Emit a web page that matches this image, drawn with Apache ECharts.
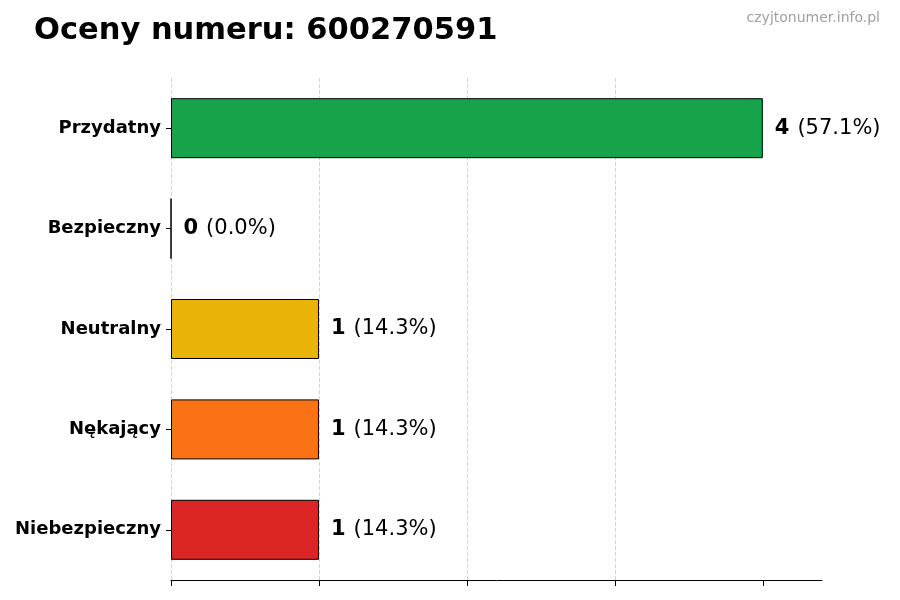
<!DOCTYPE html>
<html>
<head>
<meta charset="utf-8">
<script src="https://cdn.jsdelivr.net/npm/echarts@6/dist/echarts.min.js"></script>
<style>
    html, body { margin: 0; padding: 0; background: #fff; }
    #chart { width: 900px; height: 600px; }
</style>
</head>
<body>
<div id="chart"></div>
<script>
// Chart data
const categories = ['Przydatny', 'Bezpieczny', 'Neutralny', 'Nękający', 'Niebezpieczny'];
const counts = [4, 0, 1, 1, 1];
const barColors = ['#16a34a', '#9ca3af', '#eab308', '#f97316', '#dc2626'];
const tickValues = [0, 1, 2, 3, 4];

const total = counts.reduce((a, b) => a + b, 0);
const fontFamily = '"DejaVu Sans", sans-serif';

const chart = echarts.init(document.getElementById('chart'));

chart.setOption({
    animation: false,
    textStyle: { fontFamily: fontFamily },
    title: [{
        text: 'Oceny numeru: 600270591',
        left: 29,
        top: 11,
        textStyle: { fontSize: 30.5, fontWeight: 'bold', color: '#000', fontFamily: fontFamily }
    }, {
        text: 'czyjtonumer.info.pl',
        right: 15,
        top: 6,
        textStyle: { fontSize: 14, fontWeight: 'normal', color: '#a0a0a0', fontFamily: fontFamily }
    }],
    grid: { left: 171, right: 78, top: 78, bottom: 20, containLabel: false },
    xAxis: {
        type: 'value',
        min: 0,
        max: 4.4,
        interval: 1,
        axisLine: { show: true, lineStyle: { color: '#000', width: 1 } },
        axisTick: { show: true, length: 6, lineStyle: { color: '#000' }, customValues: tickValues },
        axisLabel: { show: false },
        splitLine: {
            show: true,
            showMinLine: true,
            showMaxLine: false,
            lineStyle: { type: 'dashed', color: '#d4d4d4', width: 1 }
        }
    },
    yAxis: {
        type: 'category',
        inverse: true,
        data: categories,
        axisLine: { show: false },
        axisTick: { show: true, alignWithLabel: true, length: 5, lineStyle: { color: '#000' } },
        axisLabel: { fontSize: 18, fontWeight: 'bold', color: '#000', margin: 10 }
    },
    series: [{
        type: 'bar',
        barWidth: 60,
        data: counts.map((v, i) => ({
            value: v,
            itemStyle: { color: barColors[i], borderColor: '#000', borderWidth: 1 }
        })),
        label: {
            show: true,
            position: 'right',
            distance: 12,
            formatter: (p) => '{b|' + p.value + '}{s| }{n|(' + (p.value / total * 100).toFixed(1) + '%)}',
            rich: {
                b: { fontSize: 21, fontWeight: 'bold', color: '#000', fontFamily: fontFamily },
                s: { fontSize: 21, width: 8, fontFamily: fontFamily },
                n: { fontSize: 21, color: '#000', fontFamily: fontFamily }
            }
        }
    }]
});
</script>
</body>
</html>
